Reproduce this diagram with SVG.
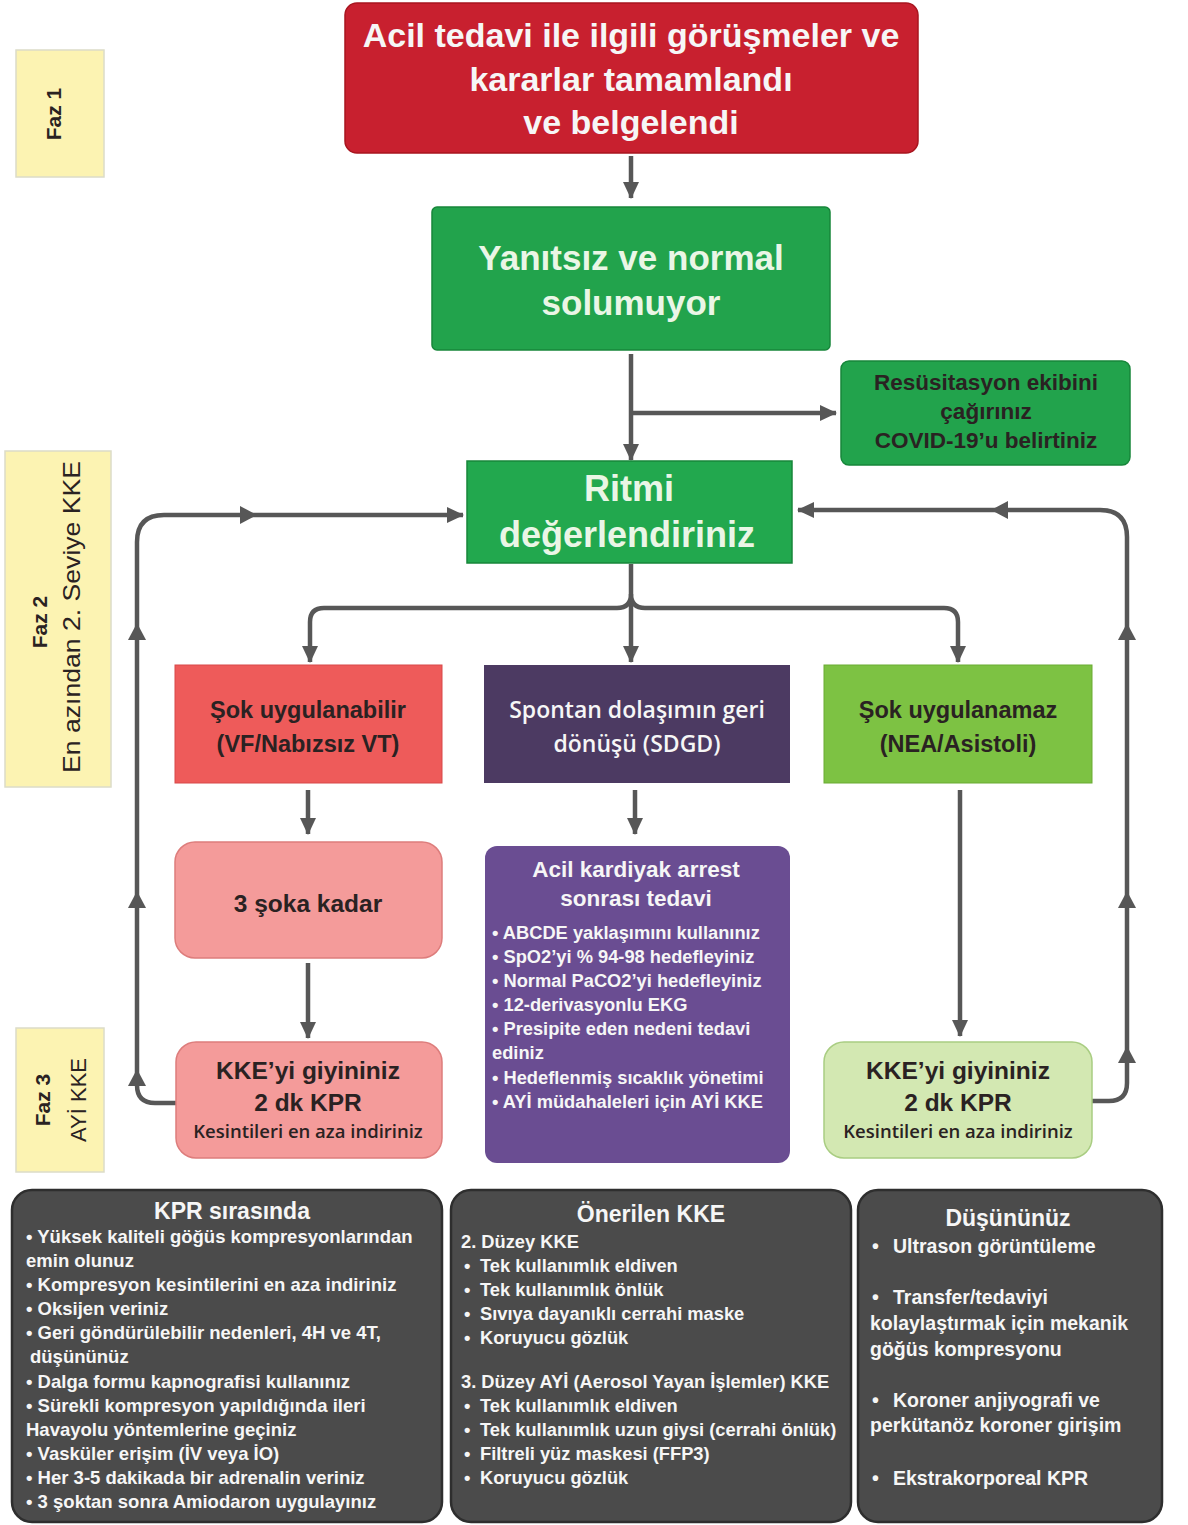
<svg xmlns="http://www.w3.org/2000/svg" width="1188" height="1525" viewBox="0 0 1188 1525">
<defs>
<style>
text{font-family:"Liberation Sans","Noto Sans",Arial,sans-serif;font-weight:bold}
.w{fill:#f6f6f6}
.d{fill:#2a2222}
.c{text-anchor:middle}
.conn{fill:none;stroke:#575757;stroke-width:4.5}
.tri{fill:#575757}
.faz{fill:#fcf3b2;stroke:#dcdcc8;stroke-width:1.5}
.gray{fill:#4b4b4b;stroke:#2e2e2e;stroke-width:2.5}
.os{font-family:"Open Sans","Liberation Sans",sans-serif;font-weight:600}
</style>
<marker id="ah" markerUnits="userSpaceOnUse" markerWidth="18" markerHeight="18" viewBox="0 0 18 18" refX="16" refY="9" orient="auto">
<path d="M0,1 L17,9 L0,17 Z" fill="#575757"/>
</marker>
<path id="up" d="M-9,8 L0,-9 L9,8 Z"/>
</defs>

<rect width="1188" height="1525" fill="#ffffff"/>

<!-- phase labels -->
<g id="faz1">
<rect class="faz" x="16" y="50" width="88" height="127"/>
<text class="d" font-size="21" text-anchor="middle" transform="translate(61,114) rotate(-90)">Faz 1</text>
</g>
<g id="faz2">
<rect class="faz" x="5" y="451" width="106" height="336"/>
<text class="d" font-size="21" text-anchor="middle" transform="translate(47,622) rotate(-90)">Faz 2</text>
<text class="d" font-size="24" style="font-weight:normal" text-anchor="middle" textLength="312" lengthAdjust="spacingAndGlyphs" transform="translate(80,617) rotate(-90)">En azından 2. Seviye KKE</text>
</g>
<g id="faz3">
<rect class="faz" x="16" y="1028" width="88" height="144"/>
<text class="d" font-size="21" text-anchor="middle" transform="translate(50,1100) rotate(-90)">Faz 3</text>
<text class="d" font-size="22" style="font-weight:normal" text-anchor="middle" transform="translate(86,1100) rotate(-90)">AYİ KKE</text>
</g>

<!-- connectors -->
<g id="connectors">
<path class="conn" d="M631,156 V198" marker-end="url(#ah)"/>
<path class="conn" d="M631,354 V460" marker-end="url(#ah)"/>
<path class="conn" d="M631,413 H836" marker-end="url(#ah)"/>
<path class="conn" d="M631,564 V594 Q631,608 617,608 H324 Q310,608 310,622 V662" marker-end="url(#ah)"/>
<path class="conn" d="M631,594 Q631,608 645,608 H944 Q958,608 958,622 V662" marker-end="url(#ah)"/>
<path class="conn" d="M631,604 V662" marker-end="url(#ah)"/>
<path class="conn" d="M308,790 V834" marker-end="url(#ah)"/>
<path class="conn" d="M308,963 V1038" marker-end="url(#ah)"/>
<path class="conn" d="M635,790 V834" marker-end="url(#ah)"/>
<path class="conn" d="M960,790 V1036" marker-end="url(#ah)"/>
<path class="conn" d="M176,1103 H155 Q137,1103 137,1085 V542 Q137,515 164,515 H463" marker-end="url(#ah)"/>
<path class="conn" d="M1092,1101 H1109 Q1127,1101 1127,1083 V537 Q1127,510 1100,510 H798" marker-end="url(#ah)"/>
<use href="#up" class="tri" transform="translate(137,632)"/>
<use href="#up" class="tri" transform="translate(137,900)"/>
<use href="#up" class="tri" transform="translate(137,1078)"/>
<use href="#up" class="tri" transform="translate(1127,632)"/>
<use href="#up" class="tri" transform="translate(1127,900)"/>
<use href="#up" class="tri" transform="translate(1127,1055)"/>
<use href="#up" class="tri" transform="translate(248,515) rotate(90)"/>
<use href="#up" class="tri" transform="translate(1000,510) rotate(-90)"/>
</g>

<!-- nodes -->
<g id="n-top">
<rect x="345" y="3" width="573" height="150" rx="12" fill="#c8202f" stroke="#a8151f" stroke-width="1.5"/>
<text class="w c" font-size="34" x="631" y="47">Acil tedavi ile ilgili görüşmeler ve</text>
<text class="w c" font-size="34" x="631" y="91">kararlar tamamlandı</text>
<text class="w c" font-size="34" x="631" y="134">ve belgelendi</text>
</g>

<g id="n-yanitsiz">
<rect x="432" y="207" width="398" height="143" rx="5" fill="#22a34c" stroke="#17863a" stroke-width="1.5"/>
<text class="c" fill="#eaf6e6" font-size="35" x="631" y="270">Yanıtsız ve normal</text>
<text class="c" fill="#eaf6e6" font-size="35" x="631" y="315">solumuyor</text>
</g>

<g id="n-resus">
<rect x="841" y="361" width="289" height="104" rx="8" fill="#22a34c" stroke="#17863a" stroke-width="1.5"/>
<text class="d c" font-size="22.5" x="986" y="390">Resüsitasyon ekibini</text>
<text class="d c" font-size="22.5" x="986" y="419">çağırınız</text>
<text class="d c" font-size="22.5" x="986" y="448">COVID-19’u belirtiniz</text>
</g>

<g id="n-ritmi">
<rect x="467" y="461" width="325" height="102" fill="#22a84e" stroke="#17863a" stroke-width="1.5"/>
<text class="c" fill="#eaf6e6" font-size="36" x="629" y="501">Ritmi</text>
<text class="c" fill="#eaf6e6" font-size="36" x="627" y="547">değerlendiriniz</text>
</g>

<g id="n-sok">
<rect x="175" y="665" width="267" height="118" fill="#ee5b5a" stroke="#d84848" stroke-width="1"/>
<text class="d c" font-size="23.5" x="308" y="718">Şok uygulanabilir</text>
<text class="d c" font-size="23.5" x="308" y="752">(VF/Nabızsız VT)</text>
</g>

<g id="n-sdgd">
<rect x="484" y="665" width="306" height="118" fill="#4c3a62"/>
<text class="w c os" font-size="23" x="637" y="718">Spontan dolaşımın geri</text>
<text class="w c os" font-size="23" x="637" y="752">dönüşü (SDGD)</text>
</g>

<g id="n-nea">
<rect x="824" y="665" width="268" height="118" fill="#7dc243" stroke="#6aab33" stroke-width="1"/>
<text class="d c" font-size="23.5" x="958" y="718">Şok uygulanamaz</text>
<text class="d c" font-size="23.5" x="958" y="752">(NEA/Asistoli)</text>
</g>

<g id="n-3sok">
<rect x="175" y="842" width="267" height="116" rx="20" fill="#f49b9a" stroke="#dd7d7c" stroke-width="1.5"/>
<text class="d c" font-size="24.5" x="308" y="912">3 şoka kadar</text>
</g>

<g id="n-kke-left">
<rect x="176" y="1042" width="266" height="116" rx="20" fill="#f49b9a" stroke="#dd7d7c" stroke-width="1.5"/>
<text class="d c" font-size="24.5" x="308" y="1079">KKE’yi giyininiz</text>
<text class="d c" font-size="24.5" x="308" y="1111">2 dk KPR</text>
<text class="d c os" font-size="18.5" x="308" y="1138">Kesintileri en aza indiriniz</text>
</g>

<g id="n-purple">
<rect x="485" y="846" width="305" height="317" rx="12" fill="#6a4d92"/>
<text class="w c" font-size="22.5" x="636" y="877">Acil kardiyak arrest</text>
<text class="w c" font-size="22.5" x="636" y="906">sonrası tedavi</text>
<g class="w" font-size="18.3">
<text x="492" y="939">• ABCDE yaklaşımını kullanınız</text>
<text x="492" y="963">• SpO2’yi % 94-98 hedefleyiniz</text>
<text x="492" y="987">• Normal PaCO2’yi hedefleyiniz</text>
<text x="492" y="1011">• 12-derivasyonlu EKG</text>
<text x="492" y="1035">• Presipite eden nedeni tedavi</text>
<text x="492" y="1059">ediniz</text>
<text x="492" y="1084">• Hedeflenmiş sıcaklık yönetimi</text>
<text x="492" y="1108">• AYİ müdahaleleri için AYİ KKE</text>
</g>
</g>

<g id="n-kke-right">
<rect x="824" y="1042" width="268" height="116" rx="20" fill="#d3e8b2" stroke="#a9cd82" stroke-width="1.5"/>
<text class="d c" font-size="24.5" x="958" y="1079">KKE’yi giyininiz</text>
<text class="d c" font-size="24.5" x="958" y="1111">2 dk KPR</text>
<text class="d c os" font-size="18.5" x="958" y="1138">Kesintileri en aza indiriniz</text>
</g>

<g id="n-kpr">
<rect class="gray" x="12" y="1190" width="430" height="332" rx="20"/>
<text class="w c" font-size="23" x="232" y="1219">KPR sırasında</text>
<g class="w" font-size="18.5">
<text x="26" y="1243">• Yüksek kaliteli göğüs kompresyonlarından</text>
<text x="26" y="1267">emin olunuz</text>
<text x="26" y="1291">• Kompresyon kesintilerini en aza indiriniz</text>
<text x="26" y="1315">• Oksijen veriniz</text>
<text x="26" y="1339">• Geri göndürülebilir nedenleri, 4H ve 4T,</text>
<text x="30" y="1363">düşününüz</text>
<text x="26" y="1388">• Dalga formu kapnografisi kullanınız</text>
<text x="26" y="1412">• Sürekli kompresyon yapıldığında ileri</text>
<text x="26" y="1436">Havayolu yöntemlerine geçiniz</text>
<text x="26" y="1460">• Vasküler erişim (İV veya İO)</text>
<text x="26" y="1484">• Her 3-5 dakikada bir adrenalin veriniz</text>
<text x="26" y="1508">• 3 şoktan sonra Amiodaron uygulayınız</text>
</g>
</g>

<g id="n-onerilen">
<rect class="gray" x="451" y="1190" width="400" height="332" rx="20"/>
<text class="w c" font-size="23" x="651" y="1222">Önerilen KKE</text>
<g class="w" font-size="18.3">
<text x="461" y="1248">2. Düzey KKE</text>
<text x="464" y="1272">•<tspan x="480">Tek kullanımlık eldiven</tspan></text>
<text x="464" y="1296">•<tspan x="480">Tek kullanımlık önlük</tspan></text>
<text x="464" y="1320">•<tspan x="480">Sıvıya dayanıklı cerrahi maske</tspan></text>
<text x="464" y="1344">•<tspan x="480">Koruyucu gözlük</tspan></text>
<text x="461" y="1388">3. Düzey AYİ (Aerosol Yayan İşlemler) KKE</text>
<text x="464" y="1412">•<tspan x="480">Tek kullanımlık eldiven</tspan></text>
<text x="464" y="1436">•<tspan x="480">Tek kullanımlık uzun giysi (cerrahi önlük)</tspan></text>
<text x="464" y="1460">•<tspan x="480">Filtreli yüz maskesi (FFP3)</tspan></text>
<text x="464" y="1484">•<tspan x="480">Koruyucu gözlük</tspan></text>
</g>
</g>

<g id="n-dusun">
<rect class="gray" x="858" y="1190" width="304" height="332" rx="20"/>
<text class="w c" font-size="23" x="1008" y="1226">Düşününüz</text>
<g class="w" font-size="19.5">
<text x="872" y="1253">•<tspan x="893">Ultrason görüntüleme</tspan></text>
<text x="872" y="1304">•<tspan x="893">Transfer/tedaviyi</tspan></text>
<text x="870" y="1330">kolaylaştırmak için mekanik</text>
<text x="870" y="1356">göğüs kompresyonu</text>
<text x="872" y="1407">•<tspan x="893">Koroner anjiyografi ve</tspan></text>
<text x="870" y="1432">perkütanöz koroner girişim</text>
<text x="872" y="1485">•<tspan x="893">Ekstrakorporeal KPR</tspan></text>
</g>
</g>
</svg>
